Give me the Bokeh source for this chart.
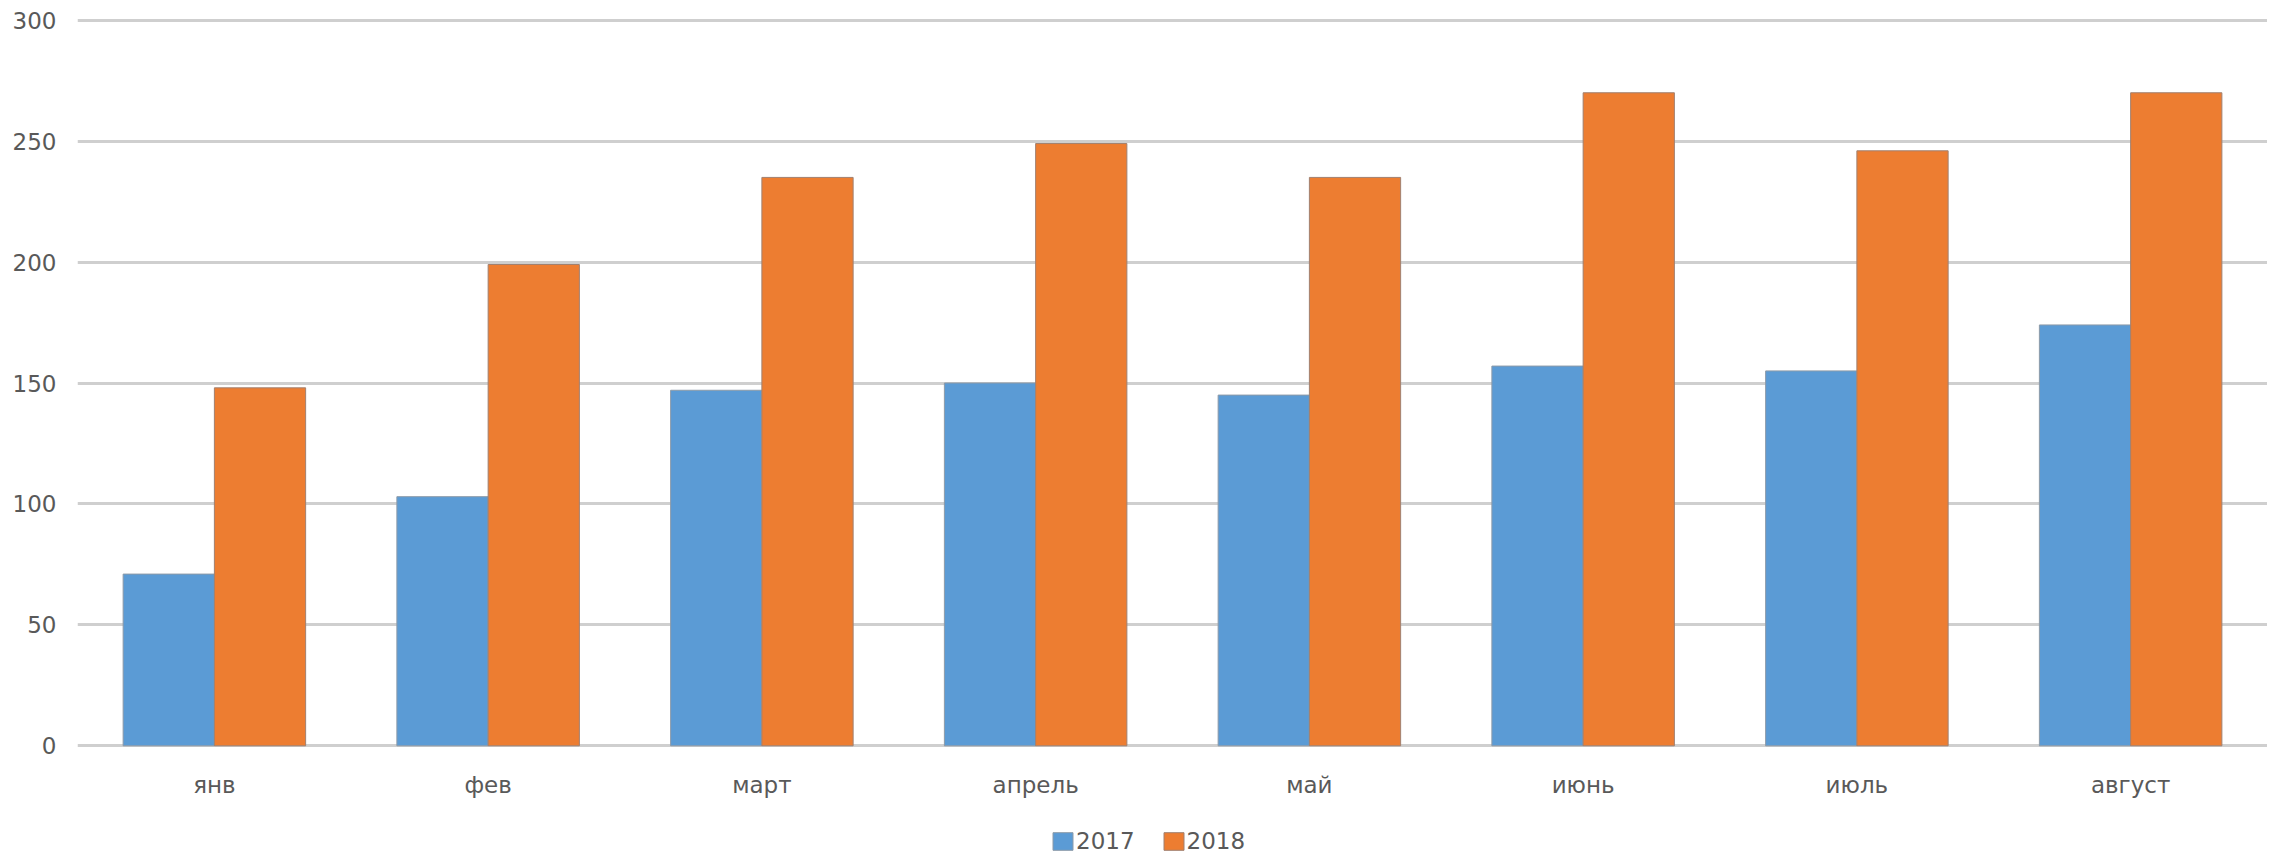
from bokeh.plotting import figure
from bokeh.layouts import column
from bokeh.models import ColumnDataSource, FactorRange, Range1d, Legend, LegendItem
from bokeh.transform import dodge
from bokeh.embed import file_html
from bokeh.resources import INLINE

months = ["янв", "фев", "март", "апрель", "май", "июнь", "июль", "август"]
v2017 = [71, 103, 147, 150, 145, 157, 155, 174]
v2018 = [148, 199, 235, 249, 235, 270, 246, 270]
series = ["2017", "2018"]
y_ticks = [0, 50, 100, 150, 200, 250, 300]

src = ColumnDataSource(data=dict(month=months, y2017=v2017, y2018=v2018))

FONT = "DejaVu Sans"
TXT = "#595959"
BLUE, ORANGE = "#5B9BD5", "#ED7D31"

p = figure(x_range=FactorRange(*months, range_padding=0),
           y_range=Range1d(-0.7, 300.7),
           width=2267, height=800,
           output_backend="svg", toolbar_location=None,
           min_border_left=77, min_border_right=0,
           min_border_top=18, min_border_bottom=51)
p.x_range.range_padding = 0
p.outline_line_color = None

p.ygrid.grid_line_color = "#cfcfcf"
p.ygrid.grid_line_width = 3
p.xgrid.grid_line_color = None
p.yaxis.ticker = y_ticks

p.vbar(x=dodge("month", -1/6, range=p.x_range), top="y2017", width=1/3,
       source=src, fill_color=BLUE, line_color="#8c9aa8", line_width=1)
p.vbar(x=dodge("month", 1/6, range=p.x_range), top="y2018", width=1/3,
       source=src, fill_color=ORANGE, line_color="#a08070", line_width=1)

for ax in (p.xaxis, p.yaxis):
    ax.axis_line_color = None
    ax.major_tick_line_color = None
    ax.minor_tick_line_color = None
    ax.major_label_text_font = FONT
    ax.major_label_text_font_size = "23px"
    ax.major_label_text_color = TXT
p.yaxis.major_label_standoff = 15
p.xaxis.major_label_standoff = 18

# legend strip below the chart (its frame is aligned with the chart's frame)
lg = figure(width=2267, height=55, output_backend="svg", toolbar_location=None,
            x_range=Range1d(10, 11), y_range=Range1d(10, 11),
            x_axis_location=None, y_axis_location=None,
            min_border_left=77, min_border_right=0,
            min_border_top=0, min_border_bottom=0)
lg.outline_line_color = None
lg.grid.grid_line_color = None
# off-screen stand-in glyphs that only carry the legend swatch styles
lr1 = lg.vbar(x=[0], top=[0], width=0, fill_color=BLUE, line_color="#8c9aa8")
lr2 = lg.vbar(x=[0], top=[0], width=0, fill_color=ORANGE, line_color="#a08070")

legend = Legend(items=[LegendItem(label=series[0], renderers=[lr1]),
                       LegendItem(label=series[1], renderers=[lr2])],
                orientation="horizontal", location=(973, 1))
legend.padding = 0
legend.margin = 0
legend.spacing = 26
legend.glyph_width = 25
legend.glyph_height = 22
legend.label_height = 22
legend.label_standoff = 1
legend.label_text_font = FONT
legend.label_text_font_size = "23px"
legend.label_text_color = TXT
legend.border_line_color = None
legend.background_fill_alpha = 0
lg.add_layout(legend, "center")

layout = column(p, lg, spacing=0)
open("out.html", "w").write(file_html(layout, INLINE))
